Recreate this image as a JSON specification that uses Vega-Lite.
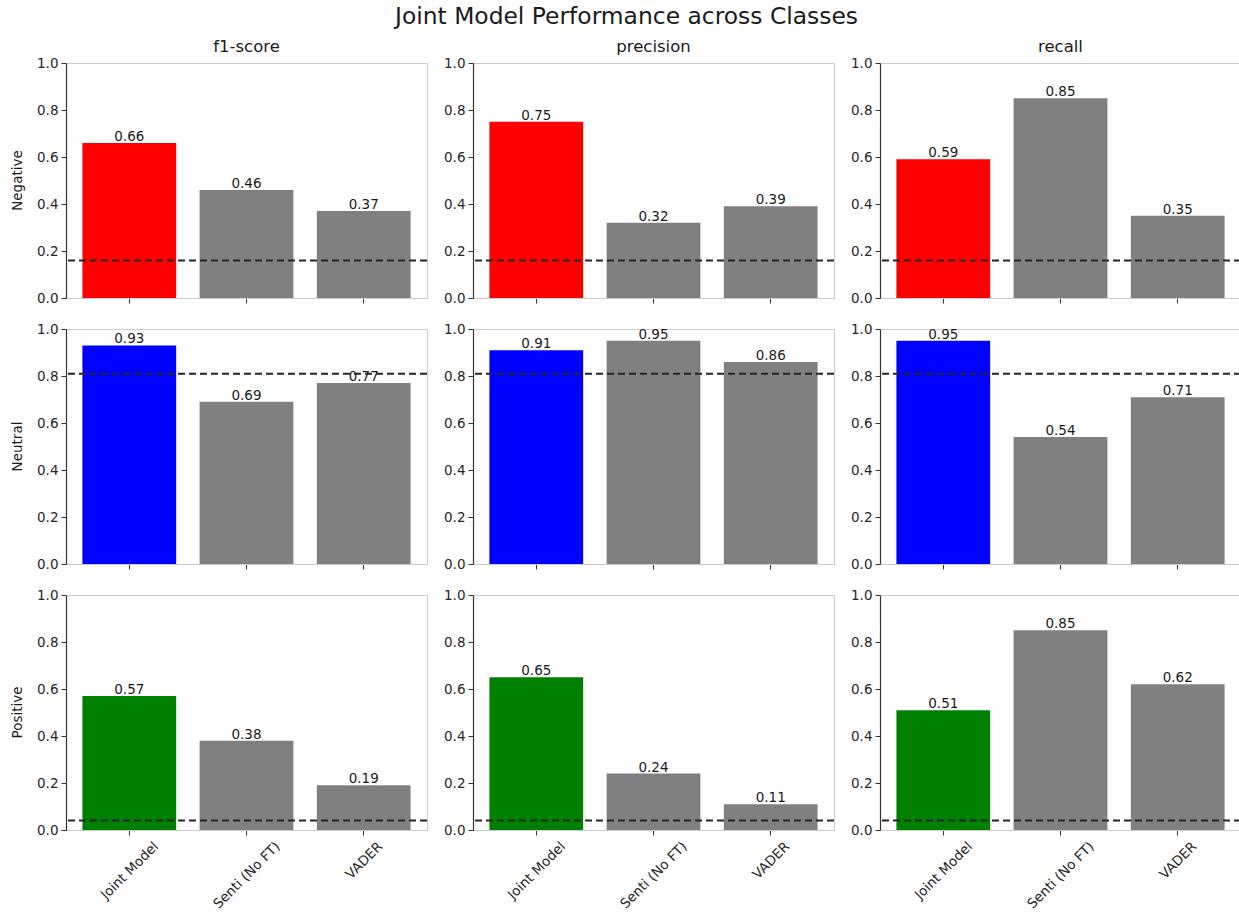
{
  "$schema": "https://vega.github.io/schema/vega-lite/v6.json",
  "padding": {"left": 10, "top": 5, "right": 0, "bottom": 0},
  "title": {"text": "Joint Model Performance across Classes", "fontSize": 23.4, "font": "DejaVu Sans", "fontWeight": "normal", "color": "#1a1a1a", "anchor": "middle", "offset": 9},
  "data": {"values": [
    {"class": "Negative", "metric": "f1-score", "model": "Joint Model", "value": 0.66, "baseline": 0.16},
    {"class": "Negative", "metric": "f1-score", "model": "Senti (No FT)", "value": 0.46, "baseline": 0.16},
    {"class": "Negative", "metric": "f1-score", "model": "VADER", "value": 0.37, "baseline": 0.16},
    {"class": "Negative", "metric": "precision", "model": "Joint Model", "value": 0.75, "baseline": 0.16},
    {"class": "Negative", "metric": "precision", "model": "Senti (No FT)", "value": 0.32, "baseline": 0.16},
    {"class": "Negative", "metric": "precision", "model": "VADER", "value": 0.39, "baseline": 0.16},
    {"class": "Negative", "metric": "recall", "model": "Joint Model", "value": 0.59, "baseline": 0.16},
    {"class": "Negative", "metric": "recall", "model": "Senti (No FT)", "value": 0.85, "baseline": 0.16},
    {"class": "Negative", "metric": "recall", "model": "VADER", "value": 0.35, "baseline": 0.16},
    {"class": "Neutral", "metric": "f1-score", "model": "Joint Model", "value": 0.93, "baseline": 0.81},
    {"class": "Neutral", "metric": "f1-score", "model": "Senti (No FT)", "value": 0.69, "baseline": 0.81},
    {"class": "Neutral", "metric": "f1-score", "model": "VADER", "value": 0.77, "baseline": 0.81},
    {"class": "Neutral", "metric": "precision", "model": "Joint Model", "value": 0.91, "baseline": 0.81},
    {"class": "Neutral", "metric": "precision", "model": "Senti (No FT)", "value": 0.95, "baseline": 0.81},
    {"class": "Neutral", "metric": "precision", "model": "VADER", "value": 0.86, "baseline": 0.81},
    {"class": "Neutral", "metric": "recall", "model": "Joint Model", "value": 0.95, "baseline": 0.81},
    {"class": "Neutral", "metric": "recall", "model": "Senti (No FT)", "value": 0.54, "baseline": 0.81},
    {"class": "Neutral", "metric": "recall", "model": "VADER", "value": 0.71, "baseline": 0.81},
    {"class": "Positive", "metric": "f1-score", "model": "Joint Model", "value": 0.57, "baseline": 0.04},
    {"class": "Positive", "metric": "f1-score", "model": "Senti (No FT)", "value": 0.38, "baseline": 0.04},
    {"class": "Positive", "metric": "f1-score", "model": "VADER", "value": 0.19, "baseline": 0.04},
    {"class": "Positive", "metric": "precision", "model": "Joint Model", "value": 0.65, "baseline": 0.04},
    {"class": "Positive", "metric": "precision", "model": "Senti (No FT)", "value": 0.24, "baseline": 0.04},
    {"class": "Positive", "metric": "precision", "model": "VADER", "value": 0.11, "baseline": 0.04},
    {"class": "Positive", "metric": "recall", "model": "Joint Model", "value": 0.51, "baseline": 0.04},
    {"class": "Positive", "metric": "recall", "model": "Senti (No FT)", "value": 0.85, "baseline": 0.04},
    {"class": "Positive", "metric": "recall", "model": "VADER", "value": 0.62, "baseline": 0.04}
  ]},
  "spacing": 16,
  "vconcat": [
    {
      "transform": [{"filter": "datum.class === 'Negative'"}],
      "facet": {
        "row": {"field": "class", "type": "nominal", "title": null, "header": {"labelAngle": -90, "labelOrient": "left", "labelPadding": 35, "labelFontSize": 13.5}},
        "column": {"field": "metric", "type": "nominal", "title": null, "header": {"labelOrient": "top", "labelPadding": 8}}
      },
      "spacing": {"column": 46, "row": 0},
      "bounds": "flush",
      "resolve": {"axis": {"y": "independent"}},
      "spec": {
        "width": 361, "height": 235,
        "layer": [
          {"mark": {"type": "bar"}, "encoding": {
            "x": {"field": "model", "type": "nominal", "sort": ["Joint Model", "Senti (No FT)", "VADER"], "title": null, "scale": {"paddingInner": 0.2, "paddingOuter": 0.14}, "axis": {"labels": false}},
            "y": {"field": "value", "type": "quantitative", "title": null, "scale": {"domain": [0, 1]}, "axis": {"values": [0, 0.2, 0.4, 0.6, 0.8, 1.0], "format": ".1f"}},
            "color": {"condition": {"test": "datum.model === 'Joint Model'", "value": "#ff0000"}, "value": "#808080"}
          }},
          {"mark": {"type": "text", "baseline": "bottom", "dy": 1, "fontSize": 13.5, "color": "#1a1a1a"}, "encoding": {
            "x": {"field": "model", "type": "nominal", "sort": ["Joint Model", "Senti (No FT)", "VADER"]},
            "y": {"field": "value", "type": "quantitative"},
            "text": {"field": "value", "type": "quantitative", "format": ".2f"}
          }},
          {"mark": {"type": "rule", "strokeDash": [7, 4], "color": "#262626", "strokeWidth": 2}, "encoding": {
            "y": {"field": "baseline", "aggregate": "mean", "type": "quantitative"}
          }}
        ]
      }
    },
    {
      "transform": [{"filter": "datum.class === 'Neutral'"}],
      "facet": {
        "row": {"field": "class", "type": "nominal", "title": null, "header": {"labelAngle": -90, "labelOrient": "left", "labelPadding": 35, "labelFontSize": 13.5}},
        "column": {"field": "metric", "type": "nominal", "title": null, "header": {"labels": false}}
      },
      "spacing": {"column": 46, "row": 0},
      "bounds": "flush",
      "resolve": {"axis": {"y": "independent"}},
      "spec": {
        "width": 361, "height": 235,
        "layer": [
          {"mark": {"type": "bar"}, "encoding": {
            "x": {"field": "model", "type": "nominal", "sort": ["Joint Model", "Senti (No FT)", "VADER"], "title": null, "scale": {"paddingInner": 0.2, "paddingOuter": 0.14}, "axis": {"labels": false}},
            "y": {"field": "value", "type": "quantitative", "title": null, "scale": {"domain": [0, 1]}, "axis": {"values": [0, 0.2, 0.4, 0.6, 0.8, 1.0], "format": ".1f"}},
            "color": {"condition": {"test": "datum.model === 'Joint Model'", "value": "#0000ff"}, "value": "#808080"}
          }},
          {"mark": {"type": "text", "baseline": "bottom", "dy": 1, "fontSize": 13.5, "color": "#1a1a1a"}, "encoding": {
            "x": {"field": "model", "type": "nominal", "sort": ["Joint Model", "Senti (No FT)", "VADER"]},
            "y": {"field": "value", "type": "quantitative"},
            "text": {"field": "value", "type": "quantitative", "format": ".2f"}
          }},
          {"mark": {"type": "rule", "strokeDash": [7, 4], "color": "#262626", "strokeWidth": 2}, "encoding": {
            "y": {"field": "baseline", "aggregate": "mean", "type": "quantitative"}
          }}
        ]
      }
    },
    {
      "transform": [{"filter": "datum.class === 'Positive'"}],
      "facet": {
        "row": {"field": "class", "type": "nominal", "title": null, "header": {"labelAngle": -90, "labelOrient": "left", "labelPadding": 35, "labelFontSize": 13.5}},
        "column": {"field": "metric", "type": "nominal", "title": null, "header": {"labels": false}}
      },
      "spacing": {"column": 46, "row": 0},
      "bounds": "flush",
      "resolve": {"axis": {"y": "independent"}},
      "spec": {
        "width": 361, "height": 235,
        "layer": [
          {"mark": {"type": "bar"}, "encoding": {
            "x": {"field": "model", "type": "nominal", "sort": ["Joint Model", "Senti (No FT)", "VADER"], "title": null, "scale": {"paddingInner": 0.2, "paddingOuter": 0.14}, "axis": {
              "labelAngle": -45, "labelAlign": "right", "labelBaseline": "top", "labelPadding": 4,
              "labelOffset": {"condition": [{"test": "datum.value === 'Joint Model'", "value": 22}, {"test": "datum.value === 'Senti (No FT)'", "value": 26.5}], "value": 12}
            }},
            "y": {"field": "value", "type": "quantitative", "title": null, "scale": {"domain": [0, 1]}, "axis": {"values": [0, 0.2, 0.4, 0.6, 0.8, 1.0], "format": ".1f"}},
            "color": {"condition": {"test": "datum.model === 'Joint Model'", "value": "#008000"}, "value": "#808080"}
          }},
          {"mark": {"type": "text", "baseline": "bottom", "dy": 1, "fontSize": 13.5, "color": "#1a1a1a"}, "encoding": {
            "x": {"field": "model", "type": "nominal", "sort": ["Joint Model", "Senti (No FT)", "VADER"]},
            "y": {"field": "value", "type": "quantitative"},
            "text": {"field": "value", "type": "quantitative", "format": ".2f"}
          }},
          {"mark": {"type": "rule", "strokeDash": [7, 4], "color": "#262626", "strokeWidth": 2}, "encoding": {
            "y": {"field": "baseline", "aggregate": "mean", "type": "quantitative"}
          }}
        ]
      }
    }
  ],
  "config": {
    "font": "DejaVu Sans",
    "view": {"stroke": "#cccccc", "strokeWidth": 1},
    "axis": {"domainColor": "#333333", "domainWidth": 1.2, "tickColor": "#333333", "tickSize": 5, "labelColor": "#262626", "labelFont": "DejaVu Sans", "labelFontSize": 13.5, "labelPadding": 3, "grid": false},
    "header": {"labelFont": "DejaVu Sans", "labelFontSize": 16.5, "labelColor": "#1a1a1a"},
    "text": {"font": "DejaVu Sans"}
  }
}
